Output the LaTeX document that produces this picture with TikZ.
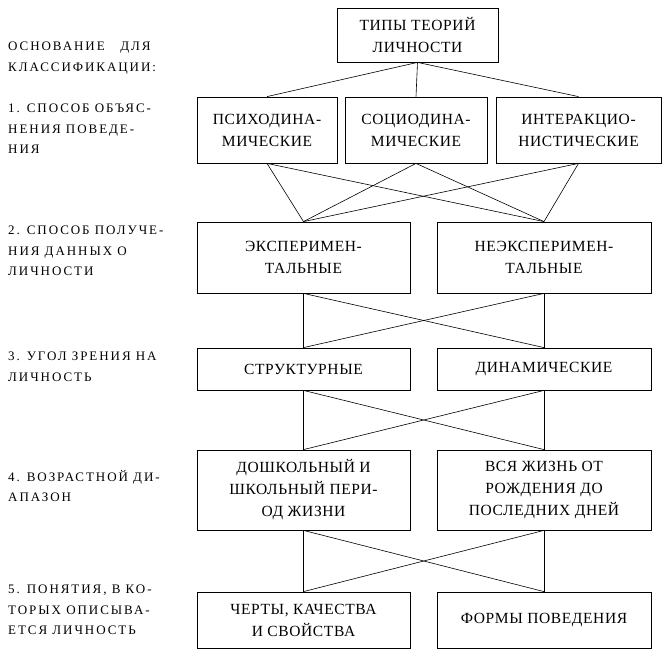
\documentclass[tikz,border=0pt]{standalone}
\usepackage{fontspec}
\setmainfont{Liberation Serif}
\newfontfamily\spaced[LetterSpace=15]{Liberation Serif}
\newfontfamily\spacedb[LetterSpace=4]{Liberation Serif}
\begin{document}
\begin{tikzpicture}[x=1pt,y=-1pt,
  bx/.style={draw,thick,minimum width=#1,align=center,font=\spacedb\fontsize{15.5}{22}\selectfont,inner sep=0pt},
  lb/.style={anchor=north west,align=left,font=\spaced\fontsize{13}{20.5}\selectfont,inner sep=0pt},
  ln/.style={semithick}]
\useasboundingbox (0,0) rectangle (669,655);
\node[bx=161pt,minimum height=54pt] (t) at (417.5,35) {ТИПЫ ТЕОРИЙ\\ЛИЧНОСТИ};
\node[bx=140pt,minimum height=66pt] (p) at (267,130) {ПСИХОДИНА-\\МИЧЕСКИЕ};
\node[bx=142pt,minimum height=66pt] (s) at (416,130) {СОЦИОДИНА-\\МИЧЕСКИЕ};
\node[bx=165pt,minimum height=66pt] (i) at (578.5,130) {ИНТЕРАКЦИО-\\НИСТИЧЕСКИЕ};
\node[bx=213pt,minimum height=71pt] (e) at (303.5,257.5) {ЭКСПЕРИМЕН-\\ТАЛЬНЫЕ};
\node[bx=214pt,minimum height=71pt] (n) at (544,257.5) {НЕЭКСПЕРИМЕН-\\ТАЛЬНЫЕ};
\node[bx=213pt,minimum height=42pt] (st) at (303.5,369) {СТРУКТУРНЫЕ};
\node[bx=214pt,minimum height=42pt] (d) at (544,369) {ДИНАМИЧЕСКИЕ};
\node[bx=213pt,minimum height=80pt] (a1) at (303.5,490) {ДОШКОЛЬНЫЙ И\\ШКОЛЬНЫЙ ПЕРИ-\\ОД ЖИЗНИ};
\node[bx=214pt,minimum height=80pt] (a2) at (544,490) {ВСЯ ЖИЗНЬ ОТ\\РОЖДЕНИЯ ДО\\ПОСЛЕДНИХ ДНЕЙ};
\node[bx=213pt,minimum height=56pt] (c1) at (303.5,620) {ЧЕРТЫ, КАЧЕСТВА\\И СВОЙСТВА};
\node[bx=214pt,minimum height=56pt] (c2) at (544,620) {ФОРМЫ ПОВЕДЕНИЯ};
\coordinate (tb) at (t.south);
\foreach \b in {p,s,i} \draw[ln] (tb) -- (\b.north);
\foreach \a in {p,s,i} \foreach \b in {e,n} \draw[ln] (\a.south) -- (\b.north);
\foreach \u/\v/\w/\z in {e/n/st/d, st/d/a1/a2, a1/a2/c1/c2}{
  \draw[ln] (\u.south) -- (\w.north);
  \draw[ln] (\v.south) -- (\z.north);
  \draw[ln] (\u.south) -- (\z.north);
  \draw[ln] (\v.south) -- (\w.north);
}
\node[lb] (l0) at (8,42) {ОСНОВАНИЕ\ \ \ ДЛЯ\\КЛАССИФИКАЦИИ:};
\node[lb] (l1) at (8,104) {1. СПОСОБ ОБЪЯС-\\НЕНИЯ ПОВЕДЕ-\\НИЯ};
\node[lb] (l2) at (8,226) {2. СПОСОБ ПОЛУЧЕ-\\НИЯ ДАННЫХ О\\ЛИЧНОСТИ};
\node[lb] (l3) at (8,352) {3. УГОЛ ЗРЕНИЯ НА\\ЛИЧНОСТЬ};
\node[lb] (l4) at (8,470) {4. ВОЗРАСТНОЙ ДИ-\\АПАЗОН};
\node[lb] (l5) at (8,585) {5. ПОНЯТИЯ, В КО-\\ТОРЫХ ОПИСЫВА-\\ЕТСЯ ЛИЧНОСТЬ};
\end{tikzpicture}
\end{document}
